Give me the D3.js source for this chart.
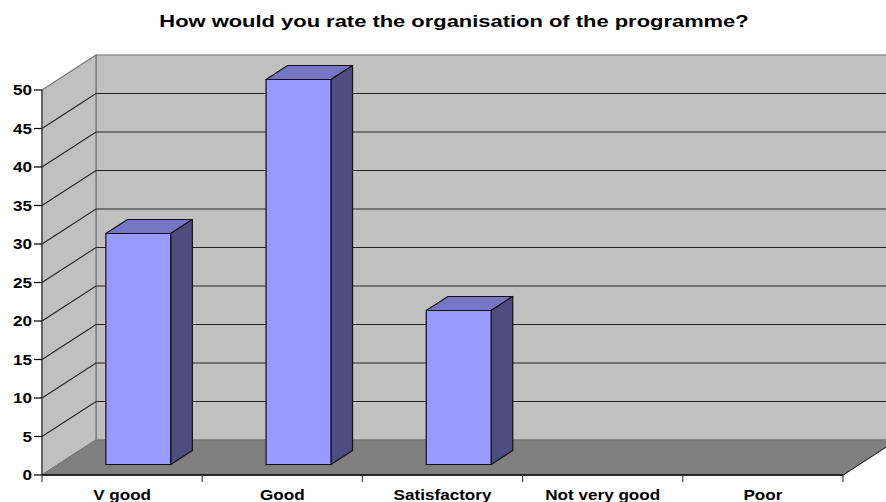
<!DOCTYPE html>
<html>
<head>
<meta charset="utf-8">
<script src="https://cdn.jsdelivr.net/npm/d3@7"></script>
<style>
  html, body { margin: 0; padding: 0; background: #fff; }
  svg { display: block; }
  text { font-family: "Liberation Sans", Arial, sans-serif; font-weight: bold; fill: #000; }
</style>
</head>
<body>
<div class="chart"></div>
<script>
var title = "How would you rate the organisation of the programme?";
var categories = ["V good", "Good", "Satisfactory", "Not very good", "Poor"];
var values = [30, 50, 20, 0, 0];
var yTicks = [0, 5, 10, 15, 20, 25, 30, 35, 40, 45, 50];

var svgWidth = 886;
var svgHeight = 502;

// front plane of the 3D box
var x0 = 42, x1 = 843, yBottom = 475, yTop = 90;
// how far the back wall is shifted from the front plane
var depthX = 54, depthY = 35;

// the original picture was stretched sideways, so the text is too
var labelStretch = 1.18, titleStretch = 1.29;

var svg = d3.select(".chart")
  .append("svg")
  .attr("width", svgWidth)
  .attr("height", svgHeight);

var xScale = d3.scaleBand()
  .domain(categories)
  .range([x0, x1])
  .paddingInner(0.595)
  .paddingOuter(0.2975);

var xTickScale = d3.scalePoint()
  .domain(d3.range(categories.length + 1))
  .range([x0, x1]);

var yScale = d3.scaleLinear()
  .domain([0, 50])
  .range([yBottom, yTop]);

// z goes from 0 (front) to 1 (back wall)
function project(x, y, z) {
  return [x + depthX * z, y - depthY * z];
}

function poly(points, fill, stroke, strokeWidth) {
  return svg.append("polygon")
    .attr("points", points.map(p => p.join(",")).join(" "))
    .attr("fill", fill)
    .attr("stroke", stroke)
    .attr("stroke-width", strokeWidth)
    .attr("stroke-linejoin", "round");
}

// Walls and floor
var wall = "#c0c0c0", floor = "#808080", edge = "#777";
poly([project(x0, yTop, 1), project(x1, yTop, 1), project(x1, yBottom, 1), project(x0, yBottom, 1)], wall, edge, 1.2);
poly([project(x0, yTop, 0), project(x0, yTop, 1), project(x0, yBottom, 1), project(x0, yBottom, 0)], wall, edge, 1.2);
poly([project(x0, yBottom, 0), project(x0, yBottom, 1), project(x1, yBottom, 1), project(x1, yBottom, 0)], floor, edge, 1.2);

// Gridlines on side wall and back wall
svg.append("g").selectAll("path")
  .data(yTicks.filter(d => d > 0 && d < 50))
  .enter()
  .append("path")
  .attr("d", function(d) {
    return d3.line()([project(x0, yScale(d), 0), project(x0, yScale(d), 1), project(x1, yScale(d), 1)]);
  })
  .attr("fill", "none")
  .attr("stroke", "#222")
  .attr("stroke-width", 1.1);

// Axes
svg.append("line")
  .attr("x1", x0).attr("x2", x0)
  .attr("y1", yTop).attr("y2", yBottom)
  .attr("stroke", "#444").attr("stroke-width", 1.3);

svg.append("line")
  .attr("x1", x0).attr("x2", x1)
  .attr("y1", yBottom).attr("y2", yBottom)
  .attr("stroke", "#000").attr("stroke-width", 1.3);

var right = project(x1, yBottom, 1);
svg.append("line")
  .attr("x1", x1).attr("y1", yBottom)
  .attr("x2", right[0]).attr("y2", right[1])
  .attr("stroke", "#222").attr("stroke-width", 1);

// Y ticks and labels
var yAxis = svg.append("g").selectAll("g")
  .data(yTicks)
  .enter()
  .append("g")
  .attr("transform", d => `translate(0, ${yScale(d)})`);

yAxis.append("line")
  .attr("x1", x0 - 8).attr("x2", x0)
  .attr("stroke", "#000").attr("stroke-width", 1.2);

yAxis.append("text")
  .attr("transform", `translate(${x0 - 10}, 0) scale(${labelStretch}, 1)`)
  .attr("dy", "0.36em")
  .attr("text-anchor", "end")
  .attr("font-size", 14.5)
  .text(d => d);

// X ticks and labels
svg.append("g").selectAll("line")
  .data(d3.range(categories.length + 1))
  .enter()
  .append("line")
  .attr("x1", d => xTickScale(d)).attr("x2", d => xTickScale(d))
  .attr("y1", yBottom).attr("y2", yBottom + 7)
  .attr("stroke", "#444").attr("stroke-width", 1.2);

svg.append("g").selectAll("text")
  .data(categories)
  .enter()
  .append("text")
  .attr("transform", d => `translate(${xScale(d) + xScale.bandwidth() / 2}, 500) scale(${labelStretch}, 1)`)
  .attr("text-anchor", "middle")
  .attr("font-size", 14.5)
  .text(d => d);

// Bars, sitting part way into the floor depth
var zFront = 0.3, zBack = 0.7;

categories.forEach(function(c, i) {
  if (values[i] <= 0) return;
  var l = xScale(c), r = l + xScale.bandwidth();
  var t = yScale(values[i]), b = yScale(0);

  poly([project(l, t, zFront), project(l, t, zBack), project(r, t, zBack), project(r, t, zFront)], "#7676c4", "#111", 1.2);
  poly([project(r, t, zFront), project(r, t, zBack), project(r, b, zBack), project(r, b, zFront)], "#4d4d80", "#111", 1.2);
  poly([project(l, t, zFront), project(r, t, zFront), project(r, b, zFront), project(l, b, zFront)], "#9999ff", "#111", 1.2);
});

// Title
svg.append("text")
  .attr("transform", `translate(454, 27) scale(${titleStretch}, 1)`)
  .attr("text-anchor", "middle")
  .attr("font-size", 17)
  .text(title);
</script>
</body>
</html>
